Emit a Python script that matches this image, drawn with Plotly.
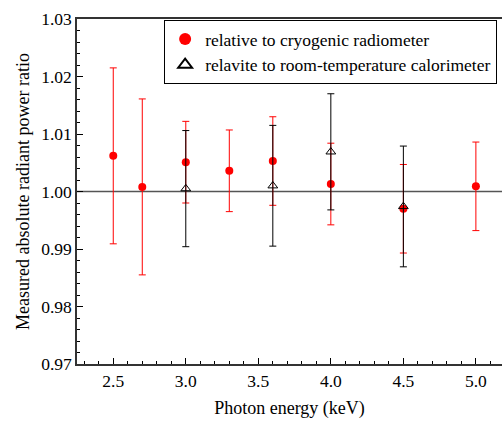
import plotly.graph_objects as go

# Data
cryo_energy = [2.5, 2.7, 3.0, 3.3, 3.6, 4.0, 4.5, 5.0]
cryo_ratio = [1.0062, 1.0008, 1.0051, 1.0036, 1.0053, 1.0013, 0.9970, 1.0009]
cryo_err = [0.0153, 0.0153, 0.0071, 0.0071, 0.0077, 0.0071, 0.0077, 0.0077]

room_energy = [3.0, 3.6, 4.0, 4.5]
room_ratio = [1.0005, 1.0010, 1.0069, 0.9974]
room_err = [0.0101, 0.0105, 0.0101, 0.0105]

ref_level = 1.0
x_ticks = [2.5, 3.0, 3.5, 4.0, 4.5, 5.0]
y_ticks = [0.97, 0.98, 0.99, 1.00, 1.01, 1.02, 1.03]

FONT = "Liberation Serif"

fig = go.Figure()
fig.add_trace(go.Scatter(
    x=cryo_energy, y=cryo_ratio, mode="markers",
    name="relative to cryogenic radiometer",
    marker=dict(symbol="circle", size=8, color="#ff0000"),
    error_y=dict(type="data", array=cryo_err, visible=True,
                 color="#ff0000", thickness=1, width=3.5),
))
fig.add_trace(go.Scatter(
    x=room_energy, y=room_ratio, mode="markers",
    name="relavite to room-temperature calorimeter",
    marker=dict(symbol="triangle-up-open", size=8.5, color="black",
                line=dict(width=1, color="black")),
    error_y=dict(type="data", array=room_err, visible=True,
                 color="black", thickness=1, width=3.5),
))

fig.add_shape(type="line", xref="paper", x0=0, x1=1, yref="y",
              y0=ref_level, y1=ref_level,
              line=dict(color="#555555", width=1.5), layer="below")

fig.update_layout(
    width=502, height=421,
    margin=dict(l=77, r=0, t=19, b=57, autoexpand=False),
    paper_bgcolor="white", plot_bgcolor="white",
    font=dict(family=FONT, size=17, color="black"),
    showlegend=True,
    legend=dict(
        x=0.205, y=0.997, xanchor="left", yanchor="top",
        bordercolor="black", borderwidth=1, bgcolor="white",
        font=dict(family=FONT, size=17.5, color="black"),
        tracegroupgap=0, itemsizing="constant", itemwidth=30,
    ),
    xaxis=dict(
        range=[2.25, 5.18], tickvals=x_ticks, ticktext=["%.1f" % v for v in x_ticks],
        ticks="inside", ticklen=6, tickwidth=1, tickcolor="black",
        minor=dict(dtick=0.1, tick0=2.5, ticks="inside", ticklen=3, tickcolor="black"),
        showline=True, linecolor="#333333", linewidth=1.5, mirror=True,
        showgrid=False, zeroline=False, automargin=False,
        title=dict(text="Photon energy (keV)", font=dict(size=18), standoff=12),
        tickfont=dict(size=17.5),
    ),
    yaxis=dict(
        range=[0.97, 1.03], tickvals=y_ticks, ticktext=["%.2f" % v for v in y_ticks],
        ticks="inside", ticklen=6, tickwidth=1, tickcolor="black",
        minor=dict(dtick=0.002, tick0=0.97, ticks="inside", ticklen=3, tickcolor="black"),
        showline=True, linecolor="#333333", linewidth=1.5, mirror=False,
        showgrid=False, zeroline=False, automargin=False,
        title=dict(text="Measured absolute radiant power ratio", font=dict(size=18), standoff=7),
        tickfont=dict(size=17.5),
    ),
)

fig.write_html(
    "out.html",
    config={"displayModeBar": False},
    post_script="document.body.style.margin='0';document.body.style.overflow='hidden';",
)
